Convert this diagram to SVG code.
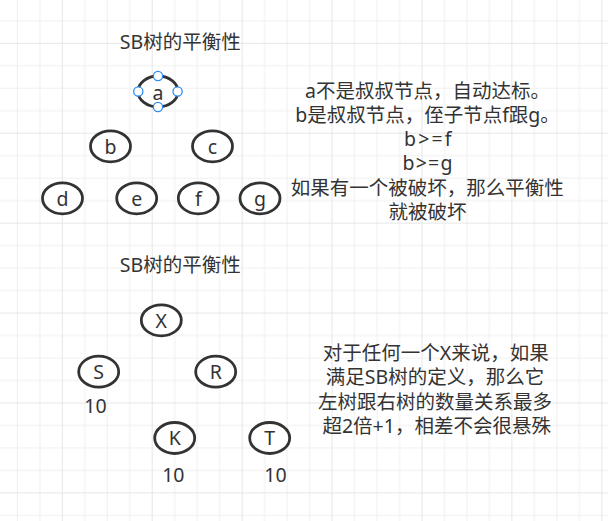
<svg xmlns="http://www.w3.org/2000/svg" width="608" height="521" viewBox="0 0 608 521">
<defs>
<pattern id="grid" patternUnits="userSpaceOnUse" x="61.8" y="42.8" width="89.92" height="89.92">
<rect width="89.92" height="89.92" fill="#ffffff"/>
<path d="M22.98 0V89.92M45.46 0V89.92M67.94 0V89.92M0 22.98H89.92M0 45.46H89.92M0 67.94H89.92" stroke="#f0f0f0" stroke-width="1" fill="none"/>
<path d="M0.5 0V89.92M0 0.5H89.92" stroke="#e6e6e6" stroke-width="1" fill="none"/>
</pattern>
</defs>
<style>
.t{font-family:"Noto Sans","Noto Sans CJK SC",sans-serif;font-size:19.5px;fill:#333333;text-anchor:middle}
.n ellipse{fill:#ffffff;stroke:#333333;stroke-width:2.8}
.h{fill:#ffffff;stroke:#2f8cf0;stroke-width:1.3}
</style>
<rect width="608" height="521" fill="url(#grid)"/>

<g id="title1"><text class="t" x="180.3" y="49.3">SB树的平衡性</text></g>

<g id="node-a" class="n"><ellipse cx="158" cy="91.5" rx="20" ry="15.5"/><text class="t" x="158" y="99.5">a</text></g>
<g id="node-b" class="n"><ellipse cx="110.5" cy="146.3" rx="20" ry="15.5"/><text class="t" x="110.5" y="154">b</text></g>
<g id="node-c" class="n"><ellipse cx="212.5" cy="146.3" rx="20" ry="15.5"/><text class="t" x="212.5" y="154">c</text></g>
<g id="node-d" class="n"><ellipse cx="62.5" cy="198.3" rx="20" ry="15.5"/><text class="t" x="62.5" y="205.5">d</text></g>
<g id="node-e" class="n"><ellipse cx="136.7" cy="198.3" rx="20" ry="15.5"/><text class="t" x="136.7" y="205.5">e</text></g>
<g id="node-f" class="n"><ellipse cx="198.3" cy="198.3" rx="20" ry="15.5"/><text class="t" x="198.3" y="205.5">f</text></g>
<g id="node-g" class="n"><ellipse cx="260" cy="198.3" rx="20" ry="15.5"/><text class="t" x="260" y="205.5">g</text></g>

<g id="selection-handles">
<circle class="h" cx="158" cy="76" r="4.6"/>
<circle class="h" cx="158" cy="107" r="4.6"/>
<circle class="h" cx="138.3" cy="91.5" r="4.6"/>
<circle class="h" cx="177.6" cy="91.5" r="4.6"/>
</g>

<g id="note1">
<text class="t" x="427.5" y="97.8">a不是叔叔节点，自动达标。<tspan x="427.5" y="122">b是叔叔节点，侄子节点f跟g。</tspan><tspan x="427.8" y="146" textLength="47.5" lengthAdjust="spacing">b&gt;=f</tspan><tspan x="427.5" y="170" textLength="50" lengthAdjust="spacing">b&gt;=g</tspan><tspan x="427.3" y="195">如果有一个被破坏，那么平衡性</tspan><tspan x="427.5" y="219">就被破坏</tspan></text>
</g>

<g id="title2"><text class="t" x="180.3" y="271.5">SB树的平衡性</text></g>

<g id="node-X" class="n"><ellipse cx="161.3" cy="320.3" rx="20" ry="15.5"/><text class="t" x="161.3" y="327.5">X</text></g>
<g id="node-S" class="n"><ellipse cx="98.7" cy="371.7" rx="20" ry="15.5"/><text class="t" x="98.7" y="379">S</text></g>
<g id="node-R" class="n"><ellipse cx="215.7" cy="371.7" rx="20" ry="15.5"/><text class="t" x="215.7" y="379">R</text></g>
<g id="node-K" class="n"><ellipse cx="174.7" cy="438" rx="20" ry="15.5"/><text class="t" x="174.7" y="445.3">K</text></g>
<g id="node-T" class="n"><ellipse cx="269.7" cy="438" rx="20" ry="15.5"/><text class="t" x="269.7" y="445.3">T</text></g>

<g id="labels">
<text class="t" x="95.5" y="412.5">10</text>
<text class="t" x="173.3" y="482.3">10</text>
<text class="t" x="275.5" y="482.3">10</text>
</g>

<g id="note2">
<text class="t" x="435.8" y="359.5">对于任何一个X来说，如果<tspan x="435" y="384">满足SB树的定义，那么它</tspan><tspan x="435" y="408.5">左树跟右树的数量关系最多</tspan><tspan x="436.7" y="433">超2倍+1，相差不会很悬殊</tspan></text>
</g>

<g id="connectors"></g>
</svg>
